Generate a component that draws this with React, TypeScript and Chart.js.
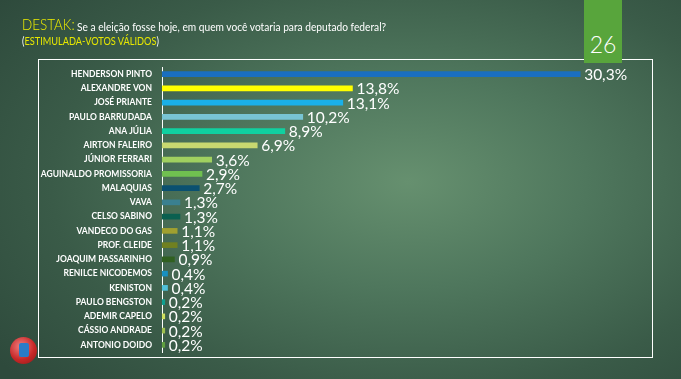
import React, { useEffect, useRef } from "react";
import { Chart, registerables } from "chart.js";

Chart.register(...registerables);

const categories = [
  "HENDERSON PINTO",
  "ALEXANDRE VON",
  "JOSÉ PRIANTE",
  "PAULO BARRUDADA",
  "ANA JÚLIA",
  "AIRTON FALEIRO",
  "JÚNIOR FERRARI",
  "AGUINALDO PROMISSORIA",
  "MALAQUIAS",
  "VAVA",
  "CELSO SABINO",
  "VANDECO DO GAS",
  "PROF. CLEIDE",
  "JOAQUIM PASSARINHO",
  "RENILCE NICODEMOS",
  "KENISTON",
  "PAULO BENGSTON",
  "ADEMIR CAPELO",
  "CÁSSIO ANDRADE",
  "ANTONIO DOIDO",
];

const values = [30.3, 13.8, 13.1, 10.2, 8.9, 6.9, 3.6, 2.9, 2.7, 1.3, 1.3, 1.1, 1.1, 0.9, 0.4, 0.4, 0.2, 0.2, 0.2, 0.2];

const valueLabels = [
  "30,3%", "13,8%", "13,1%", "10,2%", "8,9%", "6,9%", "3,6%", "2,9%", "2,7%", "1,3%",
  "1,3%", "1,1%", "1,1%", "0,9%", "0,4%", "0,4%", "0,2%", "0,2%", "0,2%", "0,2%",
];

const barColors = [
  "#1a6fc0", "#ffff00", "#1ab0e8", "#78c4d4", "#10d0a0", "#c8d870", "#a0d060", "#70c050",
  "#0a5070", "#3a8090", "#0a6050", "#a0a030", "#708020", "#306020", "#1890c0", "#50c0d8",
  "#10a090", "#d0e060", "#a0c050", "#60a040",
];

const pageTitle = "DESTAK:";
const question = "Se a eleição fosse hoje, em quem você votaria para deputado federal?";
const subtitle = "ESTIMULADA-VOTOS VÁLIDOS";
const pageNumber = "26";

const labelPlugin = {
  id: "valueLabels",
  afterDatasetsDraw(chart: any) {
    const ctx = chart.ctx;
    const meta = chart.getDatasetMeta(0);
    ctx.save();
    ctx.font = "15.5px Lato";
    ctx.fillStyle = "#ffffff";
    ctx.textBaseline = "middle";
    ctx.textAlign = "left";
    meta.data.forEach((el: any, i: number) => {
      ctx.fillText(valueLabels[i], el.x + 4, el.y + 1);
    });
    ctx.restore();
  },
};

export default function App() {
  const ref = useRef<HTMLCanvasElement | null>(null);

  useEffect(() => {
    if (!ref.current) return;
    const chart = new Chart(ref.current, {
      type: "bar",
      data: {
        labels: categories,
        datasets: [
          {
            data: values,
            backgroundColor: barColors,
            barThickness: 5,
            borderWidth: 0,
          },
        ],
      },
      options: {
        indexAxis: "y",
        responsive: false,
        animation: false,
        layout: { padding: { top: 67, bottom: 27, left: 0, right: 36 } },
        plugins: { legend: { display: false }, tooltip: { enabled: false } },
        scales: {
          x: { display: false, min: 0, max: 35 },
          y: {
            grid: { display: false, drawTicks: false },
            border: { display: true, color: "#ffffff", width: 1 },
            ticks: {
              color: "#ffffff",
              padding: 10,
              font: { family: "Lato", size: 8.5, weight: "bold" },
            },
            afterFit: (scale: any) => {
              scale.width = 162;
            },
          },
        },
      },
      plugins: [labelPlugin],
    });
    return () => chart.destroy();
  }, []);

  return (
    <div
      style={{
        position: "fixed",
        left: 0,
        top: 0,
        width: 681,
        height: 379,
        overflow: "hidden",
        background:
          "radial-gradient(ellipse 75% 80% at 60% 48%, #66906f 0%, #4f775d 35%, #3a5b48 70%, #2e4a3c 100%)",
        fontFamily: "Lato, sans-serif",
      }}
    >
      <div
        style={{
          position: "absolute",
          left: 38,
          top: 59,
          width: 613,
          height: 297,
          border: "1.5px solid #ffffff",
        }}
      />
      <canvas ref={ref} width={681} height={379} style={{ position: "absolute", left: 0, top: 0 }} />
      <div
        style={{
          position: "absolute",
          left: 584,
          top: 0,
          width: 38,
          height: 63,
          background: "#58a53c",
          color: "#ffffff",
          fontSize: 23,
          fontWeight: 300,
          textAlign: "center",
          lineHeight: "22px",
          paddingTop: 33,
          boxSizing: "border-box",
        }}
      >
        {pageNumber}
      </div>
      <div
        style={{
          position: "absolute",
          left: 22,
          top: 14,
          whiteSpace: "nowrap",
          lineHeight: "20px",
          color: "#ecec00",
          fontSize: 16,
          fontWeight: 300,
          transform: "scaleX(0.84)",
          transformOrigin: "0 0",
        }}
      >
        {pageTitle}
      </div>
      <div
        style={{
          position: "absolute",
          left: 77,
          top: 17,
          whiteSpace: "nowrap",
          lineHeight: "20px",
          color: "#ffffff",
          fontSize: 12,
          transform: "scaleX(0.85)",
          transformOrigin: "0 0",
        }}
      >
        {question}
      </div>
      <div
        style={{
          position: "absolute",
          left: 22,
          top: 33,
          whiteSpace: "nowrap",
          fontSize: 11.5,
          lineHeight: "16px",
          color: "#ffffff",
          transform: "scaleX(0.8)",
          transformOrigin: "0 0",
        }}
      >
        (<span style={{ color: "#e8e800" }}>{subtitle}</span>)
      </div>
      <div
        style={{
          position: "absolute",
          left: 10,
          top: 337,
          width: 27,
          height: 27,
          borderRadius: "50%",
          background: "radial-gradient(circle at 40% 35%, #f08080 0%, #c82828 55%, #8a1818 100%)",
        }}
      >
        <div style={{ position: "absolute", left: 9, top: 6, width: 10, height: 14, background: "#2a7cc8", borderRadius: 2 }} />
      </div>
    </div>
  );
}
